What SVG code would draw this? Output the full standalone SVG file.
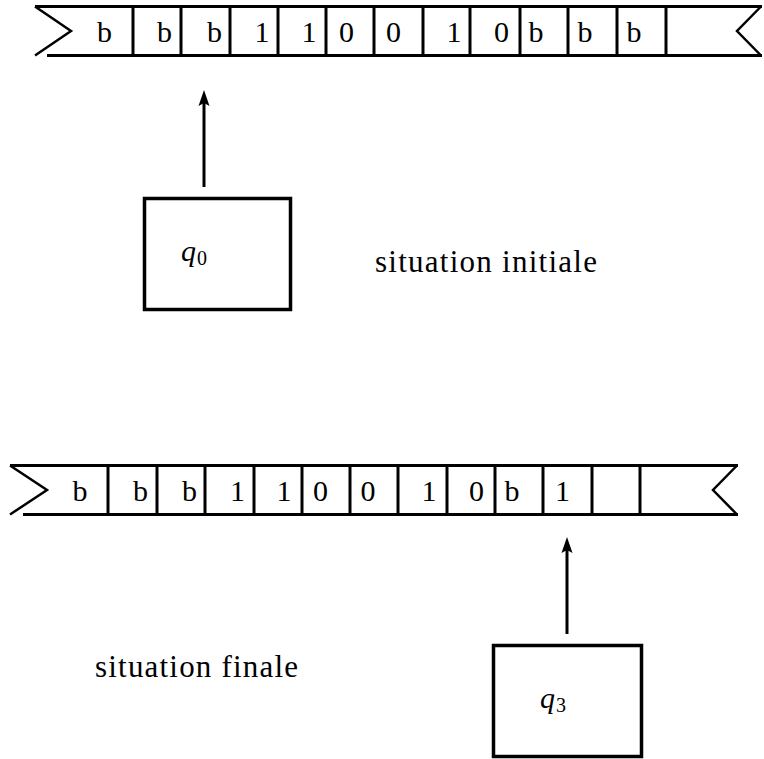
<svg xmlns="http://www.w3.org/2000/svg" width="764" height="759" viewBox="0 0 764 759">
  <style>
    .edge { stroke: #000; stroke-width: 3; fill: none; stroke-linecap: butt; }
    .notch { stroke: #000; stroke-width: 2.5; fill: none; stroke-linejoin: miter; }
    .box { stroke: #000; stroke-width: 3.5; fill: #fff; }
    .sym { font-family: "Liberation Serif", "Times New Roman", serif; font-size: 30px; fill: #000; text-anchor: middle; }
    .state { font-family: "Liberation Serif", "Times New Roman", serif; font-style: italic; font-size: 30px; fill: #000; }
    .sub { font-family: "Liberation Serif", "Times New Roman", serif; font-size: 20px; fill: #000; }
    .caption { font-family: "Liberation Serif", "Times New Roman", serif; font-size: 31px; fill: #000; }
    .arrow { stroke: #000; stroke-width: 3; fill: none; }
  </style>
  <defs>
    <!-- arrowhead drawn along +x, tip at x=16 -->
    <marker id="head" markerUnits="userSpaceOnUse" markerWidth="16" markerHeight="12" viewBox="0 0 16 12" refX="6" refY="6" orient="auto">
      <path d="M16,6 L0,0.5 L3,6 L0,11.5 Z" fill="#000"/>
    </marker>
  </defs>
  <rect width="764" height="759" fill="#fff"/>

  <!-- tape, initial configuration -->
  <g id="tape-initial">
    <line class="edge" x1="35" y1="6.5" x2="762" y2="6.5"/>
    <line class="edge" x1="47" y1="55.5" x2="762" y2="55.5"/>
    <polyline class="notch" points="35,6.5 71,31 35,55.5"/>
    <polyline class="notch" points="761,6.5 737,31 761,55.5"/>
    <g class="edge">
      <line x1="133" y1="6.5" x2="133" y2="55.5"/>
      <line x1="181" y1="6.5" x2="181" y2="55.5"/>
      <line x1="230" y1="6.5" x2="230" y2="55.5"/>
      <line x1="278" y1="6.5" x2="278" y2="55.5"/>
      <line x1="326" y1="6.5" x2="326" y2="55.5"/>
      <line x1="374" y1="6.5" x2="374" y2="55.5"/>
      <line x1="423" y1="6.5" x2="423" y2="55.5"/>
      <line x1="470" y1="6.5" x2="470" y2="55.5"/>
      <line x1="520" y1="6.5" x2="520" y2="55.5"/>
      <line x1="568" y1="6.5" x2="568" y2="55.5"/>
      <line x1="617" y1="6.5" x2="617" y2="55.5"/>
      <line x1="666" y1="6.5" x2="666" y2="55.5"/>
    </g>
    <text class="sym" x="104.5" y="42">b</text>
    <text class="sym" x="164.5" y="42">b</text>
    <text class="sym" x="214.5" y="42">b</text>
    <text class="sym" x="262" y="42">1</text>
    <text class="sym" x="309" y="42">1</text>
    <text class="sym" x="346.5" y="42">0</text>
    <text class="sym" x="393.5" y="42">0</text>
    <text class="sym" x="454" y="42">1</text>
    <text class="sym" x="501.5" y="42">0</text>
    <text class="sym" x="536" y="42">b</text>
    <text class="sym" x="585" y="42">b</text>
    <text class="sym" x="634" y="42">b</text>
  </g>

  <!-- control unit in state q0 -->
  <g id="head-q0">
    <rect class="box" x="144.5" y="198.5" width="146" height="111"/>
    <text class="state" x="181" y="261">q<tspan class="sub" font-style="normal" dx="1" dy="4">0</tspan></text>
  </g>

  <g id="label-initial">
    <text class="caption" x="375" y="272" textLength="222" lengthAdjust="spacing">situation initiale</text>
  </g>

  <!-- tape, final configuration -->
  <g id="tape-final">
    <line class="edge" x1="10" y1="465.5" x2="738" y2="465.5"/>
    <line class="edge" x1="23" y1="514.5" x2="738" y2="514.5"/>
    <polyline class="notch" points="10,465.5 47,490 10,514.5"/>
    <polyline class="notch" points="737,465.5 713,490 737,514.5"/>
    <g class="edge">
      <line x1="108" y1="465.5" x2="108" y2="514.5"/>
      <line x1="157" y1="465.5" x2="157" y2="514.5"/>
      <line x1="205" y1="465.5" x2="205" y2="514.5"/>
      <line x1="254" y1="465.5" x2="254" y2="514.5"/>
      <line x1="302" y1="465.5" x2="302" y2="514.5"/>
      <line x1="350" y1="465.5" x2="350" y2="514.5"/>
      <line x1="398" y1="465.5" x2="398" y2="514.5"/>
      <line x1="447" y1="465.5" x2="447" y2="514.5"/>
      <line x1="495" y1="465.5" x2="495" y2="514.5"/>
      <line x1="543" y1="465.5" x2="543" y2="514.5"/>
      <line x1="592" y1="465.5" x2="592" y2="514.5"/>
      <line x1="640" y1="465.5" x2="640" y2="514.5"/>
    </g>
    <text class="sym" x="80" y="501">b</text>
    <text class="sym" x="140.5" y="501">b</text>
    <text class="sym" x="189.5" y="501">b</text>
    <text class="sym" x="237.5" y="501">1</text>
    <text class="sym" x="284" y="501">1</text>
    <text class="sym" x="320.5" y="501">0</text>
    <text class="sym" x="368" y="501">0</text>
    <text class="sym" x="429" y="501">1</text>
    <text class="sym" x="476.5" y="501">0</text>
    <text class="sym" x="512" y="501">b</text>
    <text class="sym" x="562.5" y="501">1</text>
  </g>

  <!-- control unit in state q3 -->
  <g id="head-q3">
    <rect class="box" x="493.5" y="645.5" width="148" height="111"/>
    <text class="state" x="540" y="708">q<tspan class="sub" font-style="normal" dx="1" dy="4">3</tspan></text>
  </g>

  <g id="label-final">
    <text class="caption" x="95" y="677" textLength="203" lengthAdjust="spacing">situation finale</text>
  </g>

  <!-- read/write head pointers -->
  <g id="connectors">
    <line class="arrow" x1="204" y1="187" x2="204" y2="100" marker-end="url(#head)"/>
    <line class="arrow" x1="567" y1="634" x2="567" y2="547" marker-end="url(#head)"/>
  </g>
</svg>
